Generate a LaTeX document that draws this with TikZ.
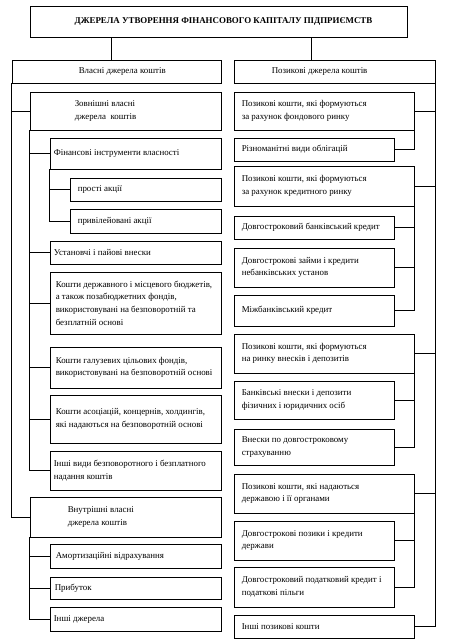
\documentclass[tikz,border=0pt]{standalone}
\usepackage{fontspec}
\setmainfont{Liberation Serif}
\tikzset{
  box/.style={draw, line width=0.85pt, rectangle, inner sep=0pt},
  lbl/.style={align=left, inner sep=0pt, font=\fontsize{8.9}{12.6}\selectfont},
  ttl/.style={align=center, inner sep=0pt, font=\bfseries\fontsize{8.9}{11}\selectfont},
  ln/.style={line width=0.85pt}
}
\newcommand{\bx}[7]{%
  \pgfmathsetmacro{\bxw}{#4-#2}\pgfmathsetmacro{\bxh}{#5-#3}%
  \node[box, minimum width=\bxw pt, minimum height=\bxh pt] (#1) at ({(#2+#4)/2},{(#3+#5)/2}) {};
  \node[lbl, anchor=west] (#1-t) at ([xshift=#6 pt]#1.west) {#7};}
\begin{document}
\begin{tikzpicture}[x=1pt, y=-1pt]
\useasboundingbox (0,0) rectangle (468,644);
% title
\node[box, minimum width=377pt, minimum height=31pt] (title) at (218.5,21.5) {};
\node[ttl] (title-t) at ([xshift=5pt]title.center) {ДЖЕРЕЛА УТВОРЕННЯ ФІНАНСОВОГО КАПІТАЛУ ПІДПРИЄМСТВ};
% level 1
\bx{vlasni}{12}{60}{221}{83}{67}{Власні джерела коштів}
\bx{pozyk}{234}{60}{435}{83}{38}{Позикові джерела коштів}
% left side
\bx{zov}{30}{92}{221}{130}{45}{Зовнішні власні\\джерела\ \ коштів}
\bx{fin}{50}{138}{221}{169}{4}{Фінансові інструменти власності}
\bx{prosti}{70}{178}{221}{201}{8}{прості акції}
\bx{pryv}{70}{209}{221}{233}{8}{привілейовані акції}
\bx{ustan}{50}{241}{221}{264}{4}{Установчі і пайові внески}
\bx{derzh}{50}{272}{221}{334}{6}{Кошти державного і місцевого бюджетів,\\а також позабюджетних фондів,\\використовувані на безповоротній та\\безплатній основі}
\bx{haluz}{50}{347}{221}{388}{6}{Кошти галузевих цільових фондів,\\використовувані на безповоротній основі}
\bx{asoc}{50}{395}{221}{443}{6}{Кошти асоціацій, концернів, холдингів,\\які надаються на безповоротній основі}
\bx{inshivydy}{50}{451}{221}{490}{4}{Інші види безповоротного і безплатного\\надання коштів}
\bx{vnut}{30}{497}{221}{537}{38}{Внутрішні власні\\джерела коштів}
\bx{amort}{50}{544}{221}{568}{6}{Амортизаційні відрахування}
\bx{prybutok}{50}{577}{221}{599}{5}{Прибуток}
\bx{inshidz}{50}{607}{221}{631}{4}{Інші джерела}
% right side
\bx{fond}{234}{92}{414}{130}{8}{Позикові кошти, які формуються\\за рахунок фондового ринку}
\bx{obl}{234}{138}{394}{161}{8}{Різноманітні види облігацій}
\bx{kred}{234}{166}{414}{206}{8}{Позикові кошти, які формуються\\за рахунок кредитного ринку}
\bx{bank}{234}{216}{394}{239}{8}{Довгостроковий банківський кредит}
\bx{zaim}{234}{248}{394}{287}{8}{Довгострокові займи і кредити\\небанківських установ}
\bx{mizh}{234}{295}{394}{326}{8}{Міжбанківський кредит}
\bx{vnes}{234}{334}{414}{373}{8}{Позикові кошти, які формуються\\на ринку внесків і депозитів}
\bx{depoz}{234}{381}{394}{419}{8}{Банківські внески і депозити\\фізичних і юридичних осіб}
\bx{strakh}{234}{429}{394}{465}{8}{Внески по довгостроковому\\страхуванню}
\bx{derzhava}{234}{474}{414}{513}{8}{Позикові кошти, які надаються\\державою і її органами}
\bx{pozyky}{234}{521}{394}{560}{8}{Довгострокові позики і кредити\\держави}
\bx{podat}{234}{567}{394}{607}{8}{Довгостроковий податковий кредит і\\податкові пільги}
\bx{inshipoz}{234}{615}{414}{638}{8}{Інші позикові кошти}
% connectors from title
\draw[ln] ([xshift=-5.5pt]vlasni.north) -- ([xshift=-5.5pt]vlasni.north |- title.south);
\draw[ln] ([xshift=-23.5pt]pozyk.north) -- ([xshift=-23.5pt]pozyk.north |- title.south);
% left trunk
\draw[ln] (vlasni.south west) |- (zov.west);
\draw[ln] (vlasni.south west) |- (vnut.west);
\foreach \n in {fin,ustan,derzh,haluz,asoc,inshivydy}
  \draw[ln] (zov.south west) |- (\n.west);
\foreach \n in {prosti,pryv}
  \draw[ln] (fin.south west) |- (\n.west);
\foreach \n in {amort,prybutok,inshidz}
  \draw[ln] (vnut.south west) |- (\n.west);
% right trunk
\foreach \n in {fond,kred,vnes,derzhava,inshipoz}
  \draw[ln] (pozyk.south east) |- (\n.east);
\draw[ln] (fond.south east) |- (obl.east);
\foreach \n in {bank,zaim,mizh}
  \draw[ln] (kred.south east) |- (\n.east);
\foreach \n in {depoz,strakh}
  \draw[ln] (vnes.south east) |- (\n.east);
\foreach \n in {pozyky,podat}
  \draw[ln] (derzhava.south east) |- (\n.east);
\end{tikzpicture}
\end{document}
